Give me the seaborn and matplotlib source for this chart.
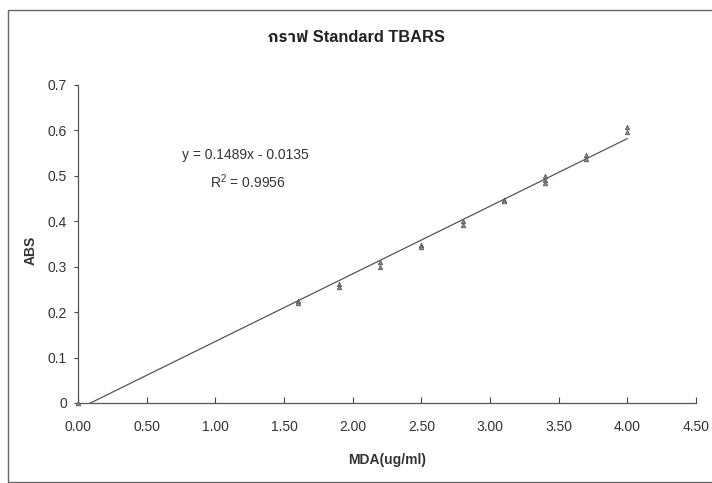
import numpy as np
import pandas as pd
import matplotlib
matplotlib.use("Agg")
import matplotlib.pyplot as plt
from matplotlib import font_manager
from matplotlib.patches import Rectangle
import seaborn as sns

# ---- data ----
mda = [0.0, 1.6, 1.6, 1.9, 1.9, 2.2, 2.2, 2.5, 2.5, 2.8, 2.8,
       3.1, 3.1, 3.4, 3.4, 3.4, 3.7, 3.7, 4.0, 4.0]
absorbance = [0.0, 0.225, 0.220, 0.262, 0.256, 0.310, 0.300, 0.348, 0.343,
              0.400, 0.392, 0.446, 0.444, 0.500, 0.490, 0.484, 0.545, 0.538,
              0.608, 0.596]
slope = 0.1489
intercept = -0.0135
fit_x = [0.0, 4.0]
x_ticks = [0.0, 0.5, 1.0, 1.5, 2.0, 2.5, 3.0, 3.5, 4.0, 4.5]
x_tick_labels = ["0.00", "0.50", "1.00", "1.50", "2.00", "2.50", "3.00", "3.50", "4.00", "4.50"]
y_ticks = [0, 0.1, 0.2, 0.3, 0.4, 0.5, 0.6, 0.7]
y_tick_labels = ["0", "0.1", "0.2", "0.3", "0.4", "0.5", "0.6", "0.7"]
title = "กราฟ Standard TBARS"
x_label = "MDA(ug/ml)"
y_label = "ABS"
eq_text = "y = 0.1489x - 0.0135"
r2_text = "R$^2$ = 0.9956"

# ---- fonts: Arial-like, plus a Thai-capable fallback ----
names = {f.name for f in font_manager.fontManager.ttflist}
base = "Liberation Sans Narrow" if "Liberation Sans Narrow" in names else "Liberation Sans"
thai_family = None
for f in font_manager.fontManager.ttflist:
    try:
        ft = matplotlib.ft2font.FT2Font(f.fname)
        cmap = ft.get_charmap()
        if ord("ก") in cmap and ord("S") in cmap:
            thai_family = f.name
            if "Sans" in f.name:
                break
    except Exception:
        pass

sns.set_style("ticks")
families = [base] + ([thai_family] if thai_family else []) + ["DejaVu Sans"]
plt.rcParams["font.family"] = families
plt.rcParams["mathtext.fontset"] = "custom"
plt.rcParams["mathtext.rm"] = base

df_pts = pd.DataFrame({"MDA": mda, "ABS": absorbance})
fx = np.array(fit_x)
df_fit = pd.DataFrame({"MDA": fx, "ABS": slope * fx + intercept})

fig = plt.figure(figsize=(7.12, 4.83), dpi=100)
ax = fig.add_axes([78 / 712, 1 - 403 / 483, (696 - 78) / 712, (403 - 85) / 483])

sns.lineplot(data=df_fit, x="MDA", y="ABS", ax=ax, color="#555555", linewidth=0.9)
sns.scatterplot(data=df_pts, x="MDA", y="ABS", ax=ax, marker="^", s=11,
                color="#888888", edgecolor="#555555", linewidth=0.5, zorder=3,
                clip_on=False)

ax.set_xlim(0, 4.5)
ax.set_ylim(0, 0.7)
ax.set_xticks(x_ticks)
ax.set_xticklabels(x_tick_labels)
ax.set_yticks(y_ticks)
ax.set_yticklabels(y_tick_labels)
ax.tick_params(axis="x", direction="in", length=4, width=0.8, color="#444444",
               labelsize=10, labelcolor="#333333", pad=12)
ax.tick_params(axis="y", direction="out", length=3, width=0.8, color="#444444",
               labelsize=10, labelcolor="#333333", pad=5)
for s in ["top", "right"]:
    ax.spines[s].set_visible(False)
for s in ["left", "bottom"]:
    ax.spines[s].set_color("#555555")
    ax.spines[s].set_linewidth(0.9)

ax.set_xlabel(x_label, fontsize=10, fontweight="bold", color="#333333", labelpad=14)
ax.set_ylabel(y_label, fontsize=10, fontweight="bold", color="#333333")
ax.yaxis.set_label_coords(-0.065, 0.48)

fig.text(0.5, 1 - 38 / 483, title, ha="center", va="center", fontsize=11.8,
         fontweight="bold", color="#222222", family=families)

ax.text(1.22, 0.545, eq_text, ha="center", va="center", fontsize=10, color="#333333")
ax.text(1.24, 0.487, r2_text, ha="center", va="center", fontsize=10, color="#333333")

# outer chart frame
fig.patches.append(Rectangle((8 / 712, 1 / 483), 1.0, 1 - 11 / 483,
                             transform=fig.transFigure, fill=False,
                             edgecolor="#666666", linewidth=1.0))

fig.savefig("out.png", dpi=100)
